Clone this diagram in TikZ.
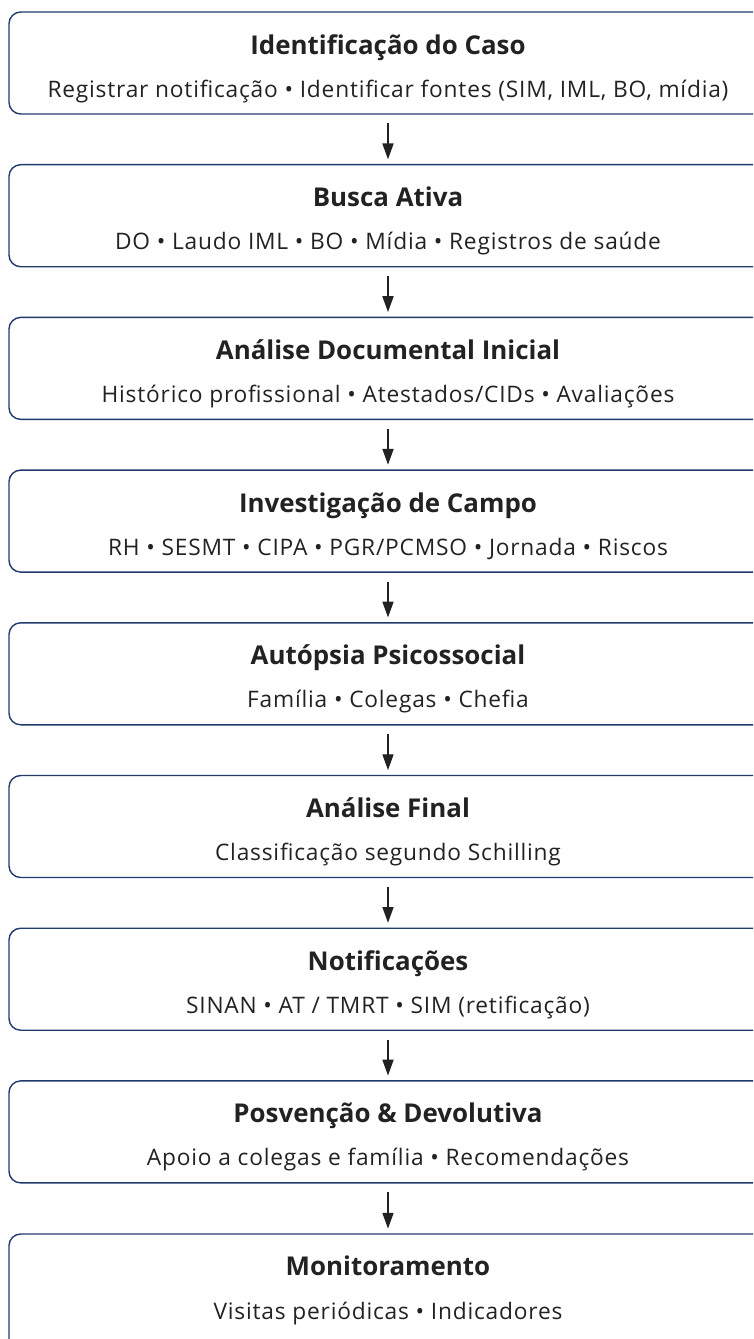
\documentclass[tikz,border=0pt]{standalone}
\usepackage{fontspec}
\setmainfont{Open Sans}
\newfontfamily\fontedetalhe[LetterSpace=3.5]{Open Sans}
\usetikzlibrary{arrows.meta}
\definecolor{bordaazul}{RGB}{32,58,108}
\definecolor{tinta}{RGB}{34,34,34}

\begin{document}
\begin{tikzpicture}[x=0.03cm, y=-0.03cm,
    etapa/.style = {draw = bordaazul, line width = 1.2pt,
        rounded corners = 10pt, inner sep = 0pt,
        minimum width = 22.74cm, minimum height = 3.06cm},
    titulo/.style = {anchor = base, text = tinta,
        font = \fontsize{22.1}{26}\selectfont\bfseries},
    detalhe/.style = {anchor = base, text = tinta,
        font = \fontsize{19.4}{23}\fontedetalhe},
    seta/.style = {line width = 1.1pt, draw = tinta,
        -{Triangle[length = 13.5pt, width = 9.5pt]},
        shorten < = 7.5pt, shorten > = 4pt}
]
    \path[use as bounding box, clip] (0,0) rectangle (753,1339);

    \draw (388,63) node(b1) [etapa] {};
    \draw (388,54) node(t1) [titulo] {Identificação do Caso};
    \draw (388,97) node(d1) [detalhe]
    {Registrar notificação • Identificar fontes (SIM, IML, BO, mídia)};

    \draw (388,215.7) node(b2) [etapa] {};
    \draw (388,206.7) node(t2) [titulo] {Busca Ativa};
    \draw (388,249.7) node(d2) [detalhe]
    {DO • Laudo IML • BO • Mídia • Registros de saúde};

    \draw (388,368.4) node(b3) [etapa] {};
    \draw (388,359.4) node(t3) [titulo] {Análise Documental Inicial};
    \draw (388,402.4) node(d3) [detalhe]
    {Histórico profissional • Atestados/CIDs • Avaliações};

    \draw (388,521.1) node(b4) [etapa] {};
    \draw (388,512.1) node(t4) [titulo] {Investigação de Campo};
    \draw (388,555.1) node(d4) [detalhe]
    {RH • SESMT • CIPA • PGR/PCMSO • Jornada • Riscos};

    \draw (388,673.8) node(b5) [etapa] {};
    \draw (388,664.8) node(t5) [titulo] {Autópsia Psicossocial};
    \draw (388,707.8) node(d5) [detalhe] {Família • Colegas • Chefia};

    \draw (388,826.5) node(b6) [etapa] {};
    \draw (388,817.5) node(t6) [titulo] {Análise Final};
    \draw (388,860.5) node(d6) [detalhe] {Classificação segundo Schilling};

    \draw (388,979.2) node(b7) [etapa] {};
    \draw (388,970.2) node(t7) [titulo] {Notificações};
    \draw (388,1013.2) node(d7) [detalhe]
    {SINAN • AT / TMRT • SIM (retificação)};

    \draw (388,1131.9) node(b8) [etapa] {};
    \draw (388,1122.9) node(t8) [titulo] {Posvenção \& Devolutiva};
    \draw (388,1165.9) node(d8) [detalhe]
    {Apoio a colegas e família • Recomendações};

    \draw (388,1299) node(b9) [etapa, minimum height = 3.9cm] {};
    \draw (388,1275.6) node(t9) [titulo] {Monitoramento};
    \draw (388,1319.6) node(d9) [detalhe] {Visitas periódicas • Indicadores};

    \draw [seta] (b1) -- (b2);
    \draw [seta] (b2) -- (b3);
    \draw [seta] (b3) -- (b4);
    \draw [seta] (b4) -- (b5);
    \draw [seta] (b5) -- (b6);
    \draw [seta] (b6) -- (b7);
    \draw [seta] (b7) -- (b8);
    \draw [seta] (b8) -- (b9);
\end{tikzpicture}
\end{document}
